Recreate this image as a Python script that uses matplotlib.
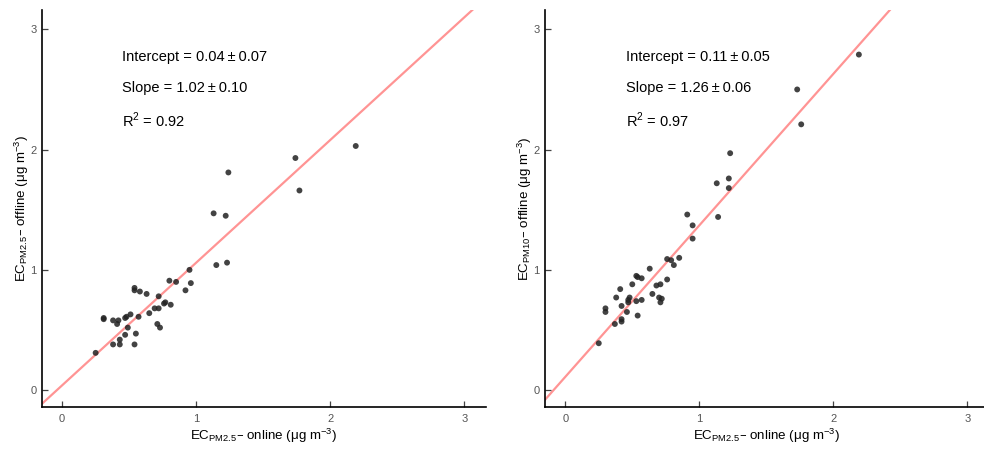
import matplotlib.pyplot as plt
import numpy as np

plt.rcParams['font.family'] = ['Liberation Sans', 'DejaVu Sans']

# EC PM2.5 online vs EC PM2.5 offline
x_pm25 = [0.25, 0.31, 0.31, 0.38, 0.42, 0.41, 0.38, 0.43, 0.43, 0.47, 0.49,
          0.47, 0.48, 0.51, 0.54, 0.55, 0.57, 0.54, 0.54, 0.58, 0.63, 0.65,
          0.69, 0.72, 0.72, 0.71, 0.73, 0.77, 0.76, 0.81, 0.80, 0.85, 0.92,
          0.96, 0.95, 1.15, 1.23, 1.24, 1.13, 1.22, 1.74, 1.77, 2.19]
y_pm25 = [0.31, 0.60, 0.59, 0.58, 0.58, 0.55, 0.38, 0.38, 0.42, 0.46, 0.52,
          0.60, 0.61, 0.63, 0.38, 0.47, 0.61, 0.83, 0.85, 0.82, 0.80, 0.64,
          0.68, 0.78, 0.68, 0.55, 0.52, 0.73, 0.72, 0.71, 0.91, 0.90, 0.83,
          0.89, 1.00, 1.04, 1.06, 1.81, 1.47, 1.45, 1.93, 1.66, 2.03]

# EC PM2.5 online vs EC PM10 offline
x_pm10 = [0.25, 0.37, 0.42, 0.42, 0.30, 0.30, 0.38, 0.41, 0.42, 0.46, 0.47,
          0.48, 0.47, 0.50, 0.53, 0.54, 0.57, 0.53, 0.57, 0.54, 0.63, 0.65,
          0.68, 0.71, 0.70, 0.72, 0.71, 0.76, 0.76, 0.79, 0.81, 0.85, 0.95,
          0.95, 0.91, 1.14, 1.13, 1.22, 1.22, 1.23, 1.73, 1.76, 2.19]
y_pm10 = [0.39, 0.55, 0.59, 0.57, 0.68, 0.65, 0.77, 0.84, 0.70, 0.65, 0.73,
          0.77, 0.75, 0.88, 0.95, 0.94, 0.93, 0.74, 0.75, 0.62, 1.01, 0.80,
          0.87, 0.88, 0.77, 0.76, 0.73, 0.92, 1.09, 1.08, 1.04, 1.10, 1.26,
          1.37, 1.46, 1.44, 1.72, 1.76, 1.68, 1.97, 2.50, 2.21, 2.79]

fits = [(0.04, 0.07, 1.02, 0.10, 0.92), (0.11, 0.05, 1.26, 0.06, 0.97)]
ylabels = ['EC$_\\mathregular{PM2.5}$\u2013 offline (\u03bcg m$^\\mathregular{-3}$)',
           'EC$_\\mathregular{PM10}$\u2013 offline (\u03bcg m$^\\mathregular{-3}$)']
xlabel = 'EC$_\\mathregular{PM2.5}$\u2013 online (\u03bcg m$^\\mathregular{-3}$)'

fig = plt.figure(figsize=(9.84, 4.5), dpi=100)
ax1 = fig.add_axes([0.0427, 0.0956, 0.451, 0.882])
ax2 = fig.add_axes([0.554, 0.0956, 0.451, 0.882])

data = [(x_pm25, y_pm25), (x_pm10, y_pm10)]
for ax, (xs, ys), fit, ylab in zip([ax1, ax2], data, fits, ylabels):
    icpt, icpt_err, slope, slope_err, r2 = fit
    xlim = (-0.15, 3.16)
    ax.set_xlim(*xlim)
    ax.set_ylim(-0.14, 3.16)
    xx = np.array(xlim)
    ax.plot(xx, icpt + slope * xx, color='#ff9494', lw=1.6, zorder=1)
    ax.scatter(xs, ys, s=18, color='#222222', alpha=0.85, edgecolors='none', zorder=2)

    for side in ['top', 'right']:
        ax.spines[side].set_visible(False)
    for side in ['left', 'bottom']:
        ax.spines[side].set_linewidth(1.2)
    ax.set_xticks([0, 1, 2, 3])
    ax.set_yticks([0, 1, 2, 3])
    ax.tick_params(direction='in', length=4, width=0.9, color='#444444',
                   labelsize=8, labelcolor='#555555')
    ax.tick_params(axis='x', pad=5)
    ax.tick_params(axis='y', pad=4)

    ax.set_xlabel(xlabel, fontsize=9.6, va='center')
    ax.xaxis.set_label_coords(0.5, -0.074)
    ax.set_ylabel(ylab, fontsize=9.6, va='center')
    ax.yaxis.set_label_coords(-0.046, 0.5)

    ax.text(0.45, 2.77, f'Intercept = {icpt:.2f}\u2009\u00b1\u2009{icpt_err:.2f}',
            fontsize=10.5, va='center')
    ax.text(0.45, 2.51, f'Slope = {slope:.2f}\u2009\u00b1\u2009{slope_err:.2f}',
            fontsize=10.5, va='center')
    ax.text(0.45, 2.24, f'R$^\\mathregular{{2}}$ = {r2:.2f}', fontsize=10.5, va='center')

fig.savefig('out.png', dpi=100)
